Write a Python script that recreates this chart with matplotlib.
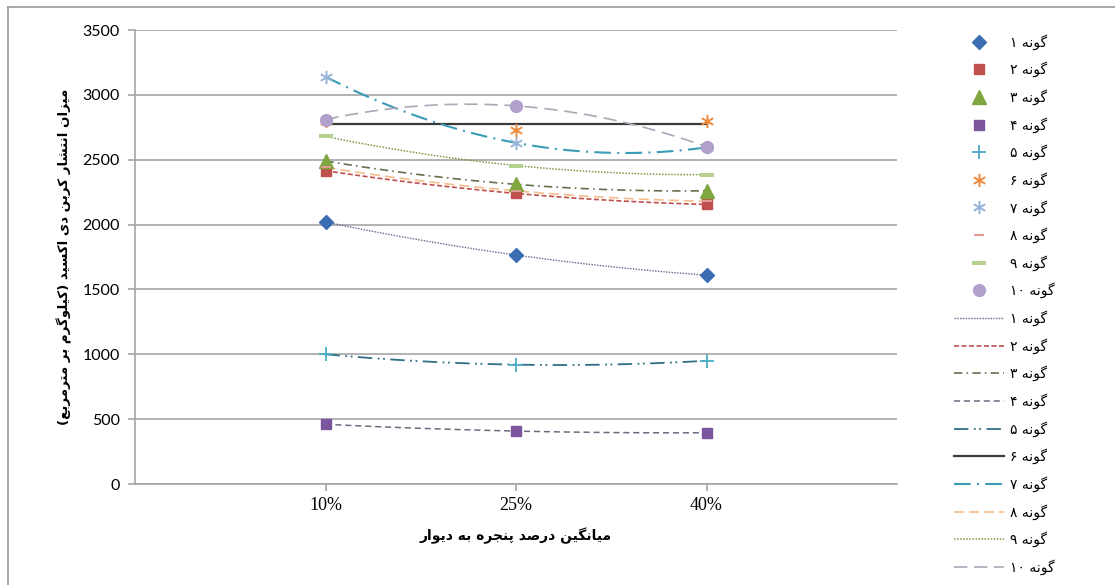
import numpy as np
import matplotlib
matplotlib.use("Agg")
import matplotlib.pyplot as plt
from matplotlib.lines import Line2D
from matplotlib.path import Path

# data: CO2 emission per window-to-wall ratio, ten building types
categories = ["10%", "25%", "40%"]
s1 = [2020, 1765, 1610]
s2 = [2415, 2240, 2155]
s3 = [2490, 2310, 2260]
s4 = [460, 408, 395]
s5 = [1000, 920, 950]
s6 = [2795, 2730, 2795]
s7 = [3140, 2630, 2595]
s8 = [2440, 2260, 2180]
s9 = [2680, 2455, 2385]
s10 = [2810, 2915, 2600]
series = [s1, s2, s3, s4, s5, s6, s7, s8, s9, s10]
trend_degree = [2, 2, 2, 2, 2, 1, 2, 2, 2, 2]

y_label = "میزان انتشار کربن دی اکسید (کیلوگرم بر مترمربع)"
x_label = "میانگین درصد پنجره به دیوار"
names = ["گونه " + "۱۲۳۴۵۶۷۸۹"[i] for i in range(9)] + ["گونه ۱۰"]

# --- minimal Persian shaping (matplotlib has no bidi / joining support) ---
FORMS = {  # iso, final, initial, medial
    "ا": ("\ufe8d", "\ufe8e", None, None),
    "ب": ("\ufe8f", "\ufe90", "\ufe91", "\ufe92"),
    "پ": ("\ufb56", "\ufb57", "\ufb58", "\ufb59"),
    "ت": ("\ufe95", "\ufe96", "\ufe97", "\ufe98"),
    "ج": ("\ufe9d", "\ufe9e", "\ufe9f", "\ufea0"),
    "د": ("\ufea9", "\ufeaa", None, None),
    "ر": ("\ufead", "\ufeae", None, None),
    "ز": ("\ufeaf", "\ufeb0", None, None),
    "س": ("\ufeb1", "\ufeb2", "\ufeb3", "\ufeb4"),
    "ش": ("\ufeb5", "\ufeb6", "\ufeb7", "\ufeb8"),
    "ص": ("\ufeb9", "\ufeba", "\ufebb", "\ufebc"),
    "ع": ("\ufec9", "\ufeca", "\ufecb", "\ufecc"),
    "ک": ("\ufb8e", "\ufb8f", "\ufb90", "\ufb91"),
    "گ": ("\ufb92", "\ufb93", "\ufb94", "\ufb95"),
    "ل": ("\ufedd", "\ufede", "\ufedf", "\ufee0"),
    "م": ("\ufee1", "\ufee2", "\ufee3", "\ufee4"),
    "ن": ("\ufee5", "\ufee6", "\ufee7", "\ufee8"),
    "و": ("\ufeed", "\ufeee", None, None),
    "ه": ("\ufee9", "\ufeea", "\ufeeb", "\ufeec"),
    "ی": ("\ufbfc", "\ufbfd", "\ufbfe", "\ufbff"),
}


def fa(text):
    out = []
    n = len(text)
    for i, ch in enumerate(text):
        if ch not in FORMS:
            out.append(ch)
            continue
        iso, fin, ini, med = FORMS[ch]
        dual = ini is not None
        prev_j = i > 0 and text[i - 1] in FORMS and FORMS[text[i - 1]][2] is not None
        next_j = dual and i < n - 1 and text[i + 1] in FORMS
        if prev_j and next_j:
            out.append(med)
        elif prev_j:
            out.append(fin)
        elif next_j:
            out.append(ini)
        else:
            out.append(iso)
    vis = out[::-1]
    # digits keep left-to-right order, brackets are mirrored
    res, run = [], []
    for ch in vis + [""]:
        if ch and "\u06f0" <= ch <= "\u06f9":
            run.append(ch)
            continue
        res.extend(run[::-1])
        run = []
        if ch:
            res.append({"(": ")", ")": "("}.get(ch, ch))
    return "".join(res)


# six-armed asterisk and flat dash markers
star = Path([(0, -1), (0, 1), (-0.87, -0.5), (0.87, 0.5), (-0.87, 0.5), (0.87, -0.5)],
            [Path.MOVETO, Path.LINETO, Path.MOVETO, Path.LINETO, Path.MOVETO, Path.LINETO])
dash = Path([(-1, -0.32), (1, -0.32), (1, 0.32), (-1, 0.32), (-1, -0.32)],
            [Path.MOVETO, Path.LINETO, Path.LINETO, Path.LINETO, Path.CLOSEPOLY])

markers = [
    dict(marker="D", ms=7.5, mfc="#3B6DB3", mec="#3B6DB3"),
    dict(marker="s", ms=7.5, mfc="#C0504D", mec="#C0504D"),
    dict(marker="^", ms=9.5, mfc="#7FA63F", mec="#7FA63F"),
    dict(marker="s", ms=7.5, mfc="#7B559E", mec="#7B559E"),
    dict(marker="+", ms=10, mec="#4BACC6", mew=1.3),
    dict(marker=star, ms=9.5, mec="#F08A3C", mew=1.4, fillstyle="none"),
    dict(marker=star, ms=9.5, mec="#95B3D7", mew=1.4, fillstyle="none"),
    dict(marker=dash, ms=6.5, mfc="#E39A97", mec="#E39A97", mew=0),
    dict(marker=dash, ms=10, mfc="#B7D18F", mec="#B7D18F", mew=0),
    dict(marker="o", ms=8.5, mfc="#B0A0CC", mec="#B0A0CC"),
]
trend_styles = [
    dict(color="#5C6B8A", ls=(0, (1, 1)), lw=1.0),
    dict(color="#C0504D", ls=(0, (3, 1.5)), lw=1.2),
    dict(color="#66704F", ls=(0, (5, 2.5, 1, 2.5)), lw=1.2),
    dict(color="#6E6A80", ls=(0, (4, 2.5)), lw=1.1),
    dict(color="#2F6F86", ls=(0, (8, 3, 1, 2, 1, 3)), lw=1.3),
    dict(color="#3A3A3A", ls="-", lw=1.6),
    dict(color="#3A9CB5", ls=(0, (8, 3, 1, 3)), lw=1.5),
    dict(color="#F5BE8C", ls=(0, (6, 3)), lw=1.2),
    dict(color="#7E9A45", ls=(0, (1, 1)), lw=1.1),
    dict(color="#A9A9B6", ls=(0, (8, 4)), lw=1.2),
]

fig = plt.figure(figsize=(11.15, 5.85), dpi=100)
# outer frame: only the top and left edges fall inside the canvas
fig.add_artist(Line2D([8 / 1115, 1.0], [1 - 7 / 585] * 2, transform=fig.transFigure,
                      color="#9A9A9A", lw=1.2))
fig.add_artist(Line2D([8 / 1115] * 2, [0.0, 1 - 7 / 585], transform=fig.transFigure,
                      color="#9A9A9A", lw=1.2))
ax = fig.add_axes([135 / 1115, 101 / 585, 762 / 1115, 454 / 585])

x = np.arange(1, len(categories) + 1)
xs = np.linspace(x[0], x[-1], 200)

for i, vals in enumerate(series):
    coef = np.polyfit(x, vals, trend_degree[i])
    ax.plot(xs, np.polyval(coef, xs), zorder=3, **trend_styles[i])
for i, vals in enumerate(series):
    ax.plot(x, vals, ls="none", zorder=4, **markers[i])

ax.set_xlim(0, 4)
ax.set_ylim(0, 3500)
ax.set_yticks(np.arange(0, 3501, 500))
ax.set_xticks(x)
ax.set_xticklabels(categories, family="Liberation Serif", fontsize=13)
for lab in ax.get_yticklabels():
    lab.set_family("Lato")
    lab.set_fontsize(11.5)
ax.grid(axis="y", color="#A6A6A6", lw=1.2)
ax.set_axisbelow(True)
for side in ("top", "right"):
    ax.spines[side].set_visible(False)
for side in ("left", "bottom"):
    ax.spines[side].set_color("#A6A6A6")
    ax.spines[side].set_linewidth(1.2)
ax.tick_params(axis="y", length=5, color="#A6A6A6", width=1.2, pad=6)
ax.tick_params(axis="x", length=5, color="#A6A6A6", width=1.2, pad=4)

ax.set_xlabel(fa(x_label), family="DejaVu Sans", weight="bold", fontsize=10, labelpad=10)
ax.set_ylabel(fa(y_label), family="DejaVu Sans", weight="bold", fontsize=9.6, labelpad=7)

handles, labels = [], []
for i in range(10):
    handles.append(Line2D([], [], ls="none", **markers[i]))
    labels.append(fa(names[i]))
for i in range(10):
    handles.append(Line2D([], [], **trend_styles[i]))
    labels.append(fa(names[i]))
fig.legend(handles, labels, loc="upper left", bbox_to_anchor=(947 / 1115, 1 - 27 / 585),
           frameon=False, prop={"family": "DejaVu Sans", "size": 10},
           labelspacing=0.86, handlelength=3.6, handletextpad=0.45, borderpad=0)

fig.savefig("out.png", dpi=100)
